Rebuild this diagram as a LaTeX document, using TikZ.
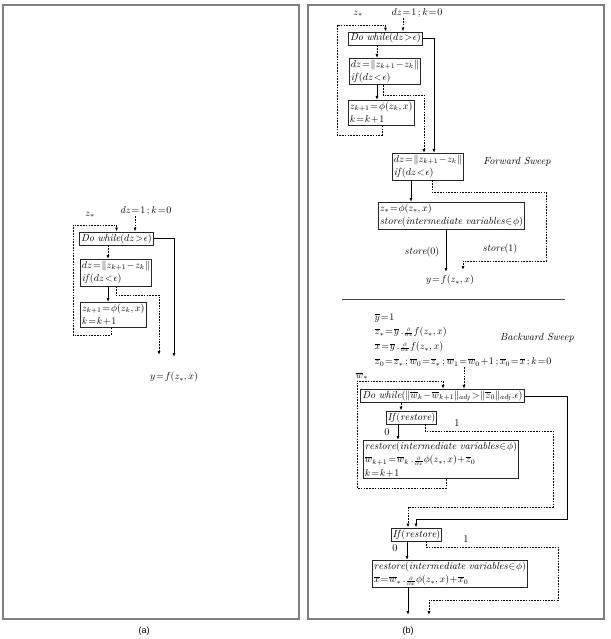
\documentclass[tikz,border=0pt]{standalone}
\usepackage{fontspec}
\newfontfamily\capfont{Liberation Sans}
\usetikzlibrary{arrows.meta}
\newcommand{\partd}[1]{\smash{{\scriptstyle\frac{\partial}{\partial #1}}}}
\newcommand{\dowhile}{\mathit{Do\ while}}
\thickmuskip=1.5mu plus 1mu
\medmuskip=1mu plus 1mu
\begin{document}
\begin{tikzpicture}[x=1pt, y=-1pt,
    >={Latex[length=4pt,width=3pt]},
    txt/.style={inner sep=0.5pt, font=\fontsize{10.3}{13.5}\selectfont},
    box/.style={txt, draw=black!85, line width=0.9pt, inner sep=1.5pt, align=left},
    flow/.style={line width=0.8pt, ->},
    dotline/.style={line width=0.9pt, dash pattern=on 1.6pt off 1.2pt, ->},
    frame/.style={draw=black!50, line width=1.2pt}]
  \useasboundingbox (0,0) rectangle (610,639);
  \draw[frame] (3,5) rectangle (299,619);
  \draw[frame] (308,5) rectangle (604,619);
  \node[txt, font=\capfont\fontsize{9}{10}\selectfont] (capA) at (144,631) {(a)};
  \node[txt, font=\capfont\fontsize{9}{10}\selectfont] (capB) at (408,631) {(b)};

  % (a) fixed point loop
  \node[txt] (zsA) at (90,215) {$z_*$};
  \node[txt] (initA) at (146,211) {$dz=1\,;k=0$};
  \node[box] (whileA) at (116.5,238.5) {$\dowhile(dz>\epsilon)$};
  \node[box, anchor=north west] (dzA) at (80,259) {$dz=\|z_{k+1}-z_k\|$\\$\mathit{if}\,(dz<\epsilon)$};
  \node[box, anchor=north west] (zA) at (80,302) {$z_{k+1}=\phi(z_k,x)$\\$k=k+1$};
  \node[txt] (yA) at (174,377) {$y=f(z_*,x)$};
  \draw[dotline] (135,0 |- initA.south) -- (135,0 |- whileA.north);
  \draw[dotline] (108,0 |- whileA.south) -- (108,0 |- dzA.north);
  \draw[flow] (108,0 |- dzA.south) -- (108,0 |- zA.north);
  \draw[dotline] (111,0 |- zA.south) |- (73,335) -- (73,225) -| (whileA.north);
  \draw[dotline] (116,0 |- dzA.south) |- (159,295) -- (159,355);
  \draw[flow] (whileA.east) -| (174,357);

  % (b) forward sweep
  \node[txt] (zsB) at (358,14) {$z_*$};
  \node[txt] (initB) at (417,13) {$dz=1\,;k=0$};
  \node[box] (whileB) at (385.5,38.5) {$\dowhile(dz>\epsilon)$};
  \node[box, anchor=north west] (dzB) at (349,58) {$dz=\|z_{k+1}-z_k\|$\\$\mathit{if}\,(dz<\epsilon)$};
  \node[box, anchor=north west] (zB) at (348,100) {$z_{k+1}=\phi(z_k,x)$\\$k=k+1$};
  \node[box, anchor=north west] (dz2B) at (392,153) {$dz=\|z_{k+1}-z_k\|$\\$\mathit{if}\,(dz<\epsilon)$};
  \node[txt] (fwdB) at (517,162) {\itshape Forward Sweep};
  \node[box, anchor=north west] (storeB) at (378,202) {$z_*=\phi(z_*,x)$\\$\mathit{store}(\mathit{intermediate\ variables}\in\phi)$};
  \node[txt] (s0B) at (422,252) {$\mathit{store}(0)$};
  \node[txt] (s1B) at (500,249) {$\mathit{store}(1)$};
  \node[txt] (yB) at (450,280) {$y=f(z_*,x)$};
  \draw[dotline] (403,0 |- initB.south) -- (403,0 |- whileB.north);
  \draw[dotline] (377,0 |- whileB.south) -- (377,0 |- dzB.north);
  \draw[flow] (377,0 |- dzB.south) -- (377,0 |- zB.north);
  \draw[dotline] (382,0 |- zB.south) |- (337,135) -- (337,25) -| (whileB.north);
  \draw[dotline] (383,0 |- dzB.south) |- (424,95) -- (424,0 |- dz2B.north);
  \draw[flow] (whileB.east) -| (434,0 |- dz2B.north);
  \draw[flow] (411,0 |- dz2B.south) -- (411,0 |- storeB.north);
  \draw[dotline] (432,0 |- dz2B.south) |- (546,192) |- (463,261) -- (463,270);
  \draw[flow] (446,0 |- storeB.south) -- (446,272);
  \draw[draw=black!70, line width=1pt] (342,299) -- (565,299);

  % (b) backward sweep
  \node[txt, anchor=west] (ybC) at (374,318) {$\overline{y}=1$};
  \node[txt, anchor=west] (zbC) at (374,332) {$\overline{z}_*=\overline{y}\,.\partd{z}f(z_*,x)$};
  \node[txt, anchor=west] (xbC) at (374,347) {$\overline{x}=\overline{y}\,.\partd{x}f(z_*,x)$};
  \node[txt, anchor=west] (initC) at (374,362) {$\overline{z}_0=\overline{z}_*\,;\overline{w}_0=\overline{z}_*\,;\overline{w}_1=\overline{w}_0+1\,;\overline{x}_0=\overline{x}\,;k=0$};
  \node[txt] (bwdC) at (537,338) {\itshape Backward Sweep};
  \node[txt] (wsC) at (362,376) {$\overline{w}_*$};
  \node[box] (whileC) at (442.5,396) {$\dowhile(\|\overline{w}_k-\overline{w}_{k+1}\|_{adj}>\|\overline{z}_0\|_{adj}.\epsilon)$};
  \node[box] (ifC) at (411.5,417.5) {$\mathit{If}\,(\mathit{restore})$};
  \node[txt] (zeroC) at (387,432) {0};
  \node[txt] (oneC) at (457,423) {1};
  \node[box, anchor=north west] (restC) at (363,440) {$\mathit{restore}(\mathit{intermediate\ variables}\in\phi)$\\$\overline{w}_{k+1}=\overline{w}_k\,.\partd{z}\phi(z_*,x)+\overline{z}_0$\\$k=k+1$};
  \node[box] (ifD) at (416.5,534.5) {$\mathit{If}\,(\mathit{restore})$};
  \node[txt] (zeroD) at (395,548) {0};
  \node[txt] (oneD) at (466,539) {1};
  \node[box, anchor=north west] (restD) at (372,560) {$\mathit{restore}(\mathit{intermediate\ variables}\in\phi)$\\$\overline{x}=\overline{w}_*\,.\partd{x}\phi(z_*,x)+\overline{x}_0$};
  \coordinate (endD) at (408,615);
  \coordinate (endE) at (429,615);
  \draw[dotline] (464,0 |- initC.south) -- (464,0 |- whileC.north);
  \draw[dotline] (401,0 |- whileC.south) -- (401,0 |- ifC.north);
  \draw[flow] (398,0 |- ifC.south) -- (398,0 |- restC.north);
  \draw[dotline] (446,0 |- restC.south) |- (357,488) -- (357,381) -| (443,0 |- whileC.north);
  \draw[dotline] (425,0 |- ifC.south) |- (553,431) |- (408,507) -- (408,0 |- ifD.north);
  \draw[flow] (whileC.east) -| (567,519) -| (416,0 |- ifD.north);
  \draw[flow] (407,0 |- ifD.south) -- (407,0 |- restD.north);
  \draw[dotline] (426,0 |- ifD.south) |- (558,547) |- (429,600) -- (endE);
  \draw[flow] (408,0 |- restD.south) -- (endD);
\end{tikzpicture}
\end{document}
